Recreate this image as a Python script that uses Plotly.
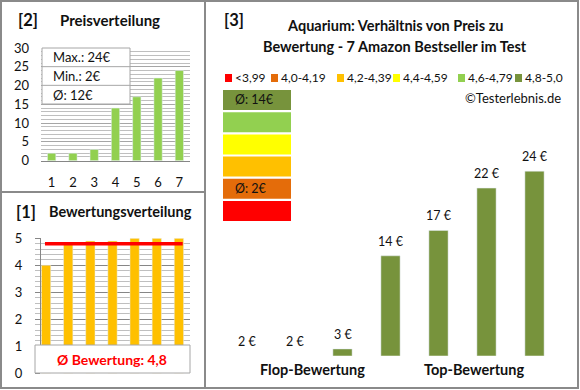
import plotly.graph_objects as go
import numpy as np

# ---------------- data ----------------
positions = [1, 2, 3, 4, 5, 6, 7]
prices = [2, 2, 3, 14, 17, 22, 24]
ratings = [4.0, 4.8, 4.9, 4.9, 5.0, 5.0, 5.0]
class_labels = ["<3,99", "4,0-4,19", "4,2-4,39", "4,4-4,59", "4,6-4,79", "4,8-5,0"]
class_lower = [0.0, 4.0, 4.2, 4.4, 4.6, 4.8]
class_colors = ["#FF0000", "#E46C0A", "#FFC000", "#FFFF00", "#92D050", "#77933C"]
price_ticks = [0, 5, 10, 15, 20, 25, 30]
rating_ticks = [0, 1, 2, 3, 4, 5]
main_title = ["Aquarium: Verhältnis von Preis zu", "Bewertung - 7 Amazon Bestseller im Test"]
group_labels = ["Flop-Bewertung", "Top-Bewertung"]

W, H = 580, 390
FONT = "Lato"
TXT = "#111111"
GRID = "#A6A6A6"
AXIS = "#868686"


def px(x):
    return x / W


def py(y):
    return 1 - y / H


def label(x, y, text, size=12, color=TXT, xanchor="center"):
    return dict(x=px(x), y=py(y), xref="paper", yref="paper", text=text,
                showarrow=False, xanchor=xanchor, yanchor="middle",
                font=dict(family=FONT, size=size, color=color))


def rating_class(r):
    idx = 0
    for i, lo in enumerate(class_lower):
        if r >= lo - 1e-9:
            idx = i
    return idx


classes = [rating_class(r) for r in ratings]
bar_colors = [class_colors[c] for c in classes]
avg_price = np.mean(prices)
avg_rating = np.mean(ratings)

fig = go.Figure()

# ---------- panel [2] Preisverteilung ----------
fig.add_trace(go.Bar(x=positions, y=prices, marker_color="#92D050", width=0.39,
                     xaxis="x", yaxis="y", showlegend=False, hoverinfo="skip"))

# ---------- panel [1] Bewertungsverteilung ----------
fig.add_trace(go.Bar(x=positions, y=ratings, marker_color="#FFC000", width=0.42,
                     xaxis="x2", yaxis="y2", showlegend=False, hoverinfo="skip"))
fig.add_trace(go.Scatter(x=[positions[0] - 0.05, positions[-1] + 0.17],
                         y=[avg_rating, avg_rating], mode="lines",
                         line=dict(color="#FF0000", width=3.5),
                         xaxis="x2", yaxis="y2", showlegend=False, hoverinfo="skip"))

# ---------- panel [3] main ----------
ymin_main = 2.2
fig.add_trace(go.Bar(x=positions, y=prices, marker_color=bar_colors, width=0.4,
                     xaxis="x3", yaxis="y3", showlegend=False, hoverinfo="skip"))

annotations = []
for p, v in zip(positions, prices):
    annotations.append(dict(x=p, y=max(v, ymin_main), xref="x3", yref="y3",
                            text=f"{v} €", showarrow=False, xanchor="center",
                            yanchor="bottom", yshift=5,
                            font=dict(family=FONT, size=12.5, color=TXT)))

shapes = []

# Panel 2 info box
bx0, bx1, by0, by1 = 42, 130, 48, 104
shapes.append(dict(type="rect", xref="paper", yref="paper", x0=px(bx0), x1=px(bx1),
                   y0=py(by1), y1=py(by0), fillcolor="white",
                   line=dict(color="#A6A6A6", width=1)))
row_h = (by1 - by0) / 3
for k in (1, 2):
    shapes.append(dict(type="line", xref="paper", yref="paper", x0=px(bx0), x1=px(bx1),
                       y0=py(by0 + k * row_h), y1=py(by0 + k * row_h),
                       line=dict(color="#A6A6A6", width=1)))
info_texts = [f"Max.: {max(prices)}€", f"Min.: {min(prices)}€", f"Ø: {avg_price:.0f}€"]
for k, t in enumerate(info_texts):
    annotations.append(label(bx0 + 9, by0 + (k + 0.5) * row_h, t, size=13, xanchor="left"))

# Panel 1 average box
shapes.append(dict(type="rect", xref="paper", yref="paper", x0=px(35), x1=px(190),
                   y0=py(373), y1=py(345), fillcolor="white",
                   line=dict(color="#A6A6A6", width=1)))
annotations.append(label(112, 359, f"<b>Ø Bewertung: {avg_rating:.1f}</b>".replace(".", ","),
                         size=14, color="#FF0000"))

# Panel titles
for txt, x, y in [("[2]", 16, 20), ("[1]", 14, 212), ("[3]", 222, 20)]:
    annotations.append(label(x, y, f"<b>{txt}</b>", size=16.5, xanchor="left"))
annotations.append(label(58, 20, "<b>Preisverteilung</b>", size=15, xanchor="left"))
annotations.append(label(47, 212, "<b>Bewertungsverteilung</b>", size=14.5, xanchor="left"))
for line_txt, y in zip(main_title, [26, 46]):
    annotations.append(label(395, y, f"<b>{line_txt}</b>", size=14.5))

# Legend row
legend_x = [225, 271, 337, 393, 458, 515]
for lx, lab, col in zip(legend_x, class_labels, class_colors):
    shapes.append(dict(type="rect", xref="paper", yref="paper", x0=px(lx), x1=px(lx + 7),
                       y0=py(82), y1=py(74), fillcolor=col, line=dict(width=0)))
    annotations.append(label(lx + 8, 78, lab, size=12, xanchor="left"))
annotations.append(label(563, 98, "©Testerlebnis.de", size=13, xanchor="right"))

# Colour scale boxes (top = best class)
top, step, hgt = 90, 22.2, 20
for j, ci in enumerate(reversed(range(len(class_colors)))):
    y0 = top + j * step
    shapes.append(dict(type="rect", xref="paper", yref="paper", x0=px(223), x1=px(291),
                       y0=py(y0 + hgt), y1=py(y0), fillcolor=class_colors[ci],
                       line=dict(width=0)))
    members = [p for p, c in zip(prices, classes) if c == ci]
    if members:
        annotations.append(label(233, y0 + hgt / 2, f"Ø: {np.mean(members):.0f}€",
                                 size=12.5, xanchor="left"))

# Group labels
for lab, x in zip(group_labels, [312, 474]):
    annotations.append(label(x, 369, f"<b>{lab}</b>", size=14.5))

# Panel borders
for x0, y0, x1, y1 in [(1, 1, 205, 192), (1, 192, 205, 388), (205, 1, 578, 388)]:
    shapes.append(dict(type="rect", xref="paper", yref="paper", x0=px(x0), x1=px(x1),
                       y0=py(y1), y1=py(y0), line=dict(color="#8A8A8A", width=2),
                       fillcolor="rgba(0,0,0,0)"))

fig.update_layout(
    width=W, height=H, margin=dict(l=0, r=0, t=0, b=0, autoexpand=False),
    paper_bgcolor="white", plot_bgcolor="white", bargap=0, showlegend=False,
    font=dict(family=FONT, size=12, color=TXT),
    xaxis=dict(domain=[px(41), px(190)], range=[0.5, 7.5], tickvals=positions,
               showline=True, linecolor=AXIS, showgrid=False, ticks="", automargin=False,
               ticklabelstandoff=10, tickfont=dict(family=FONT, size=13, color=TXT)),
    yaxis=dict(domain=[py(160.7), py(48)], range=[0, 30], tickvals=price_ticks,
               showgrid=True, gridcolor=GRID, zeroline=False, showline=False, ticks="",
               minor=dict(dtick=1, showgrid=True, gridcolor="#BFBFBF"), automargin=False,
               ticklabelstandoff=11, tickfont=dict(family=FONT, size=13, color=TXT)),
    xaxis2=dict(domain=[px(35), px(190)], range=[0.5, 7.5], showticklabels=False,
                showgrid=False, showline=False, ticks="", automargin=False),
    yaxis2=dict(domain=[py(373.3), py(238.3)], range=[0, 5], tickvals=rating_ticks,
                showgrid=True, gridcolor=AXIS, zeroline=False, showline=True, linecolor=AXIS,
                ticks="outside", ticklen=5, tickcolor=AXIS, automargin=False,
                minor=dict(dtick=0.2, showgrid=True, gridcolor="#BFBFBF"),
                ticklabelstandoff=10, tickfont=dict(family=FONT, size=13, color=TXT)),
    xaxis3=dict(domain=[px(222.5), px(558.5)], range=[0.5, 7.5], visible=False,
                automargin=False),
    yaxis3=dict(domain=[py(355.7), py(150)], range=[ymin_main, 26.5], visible=False,
                automargin=False),
    shapes=shapes, annotations=annotations,
)

fig.write_html("out.html", config={"staticPlot": True},
               post_script="document.body.style.margin='0';document.body.style.padding='0';"
                           "document.body.style.overflow='hidden';")
